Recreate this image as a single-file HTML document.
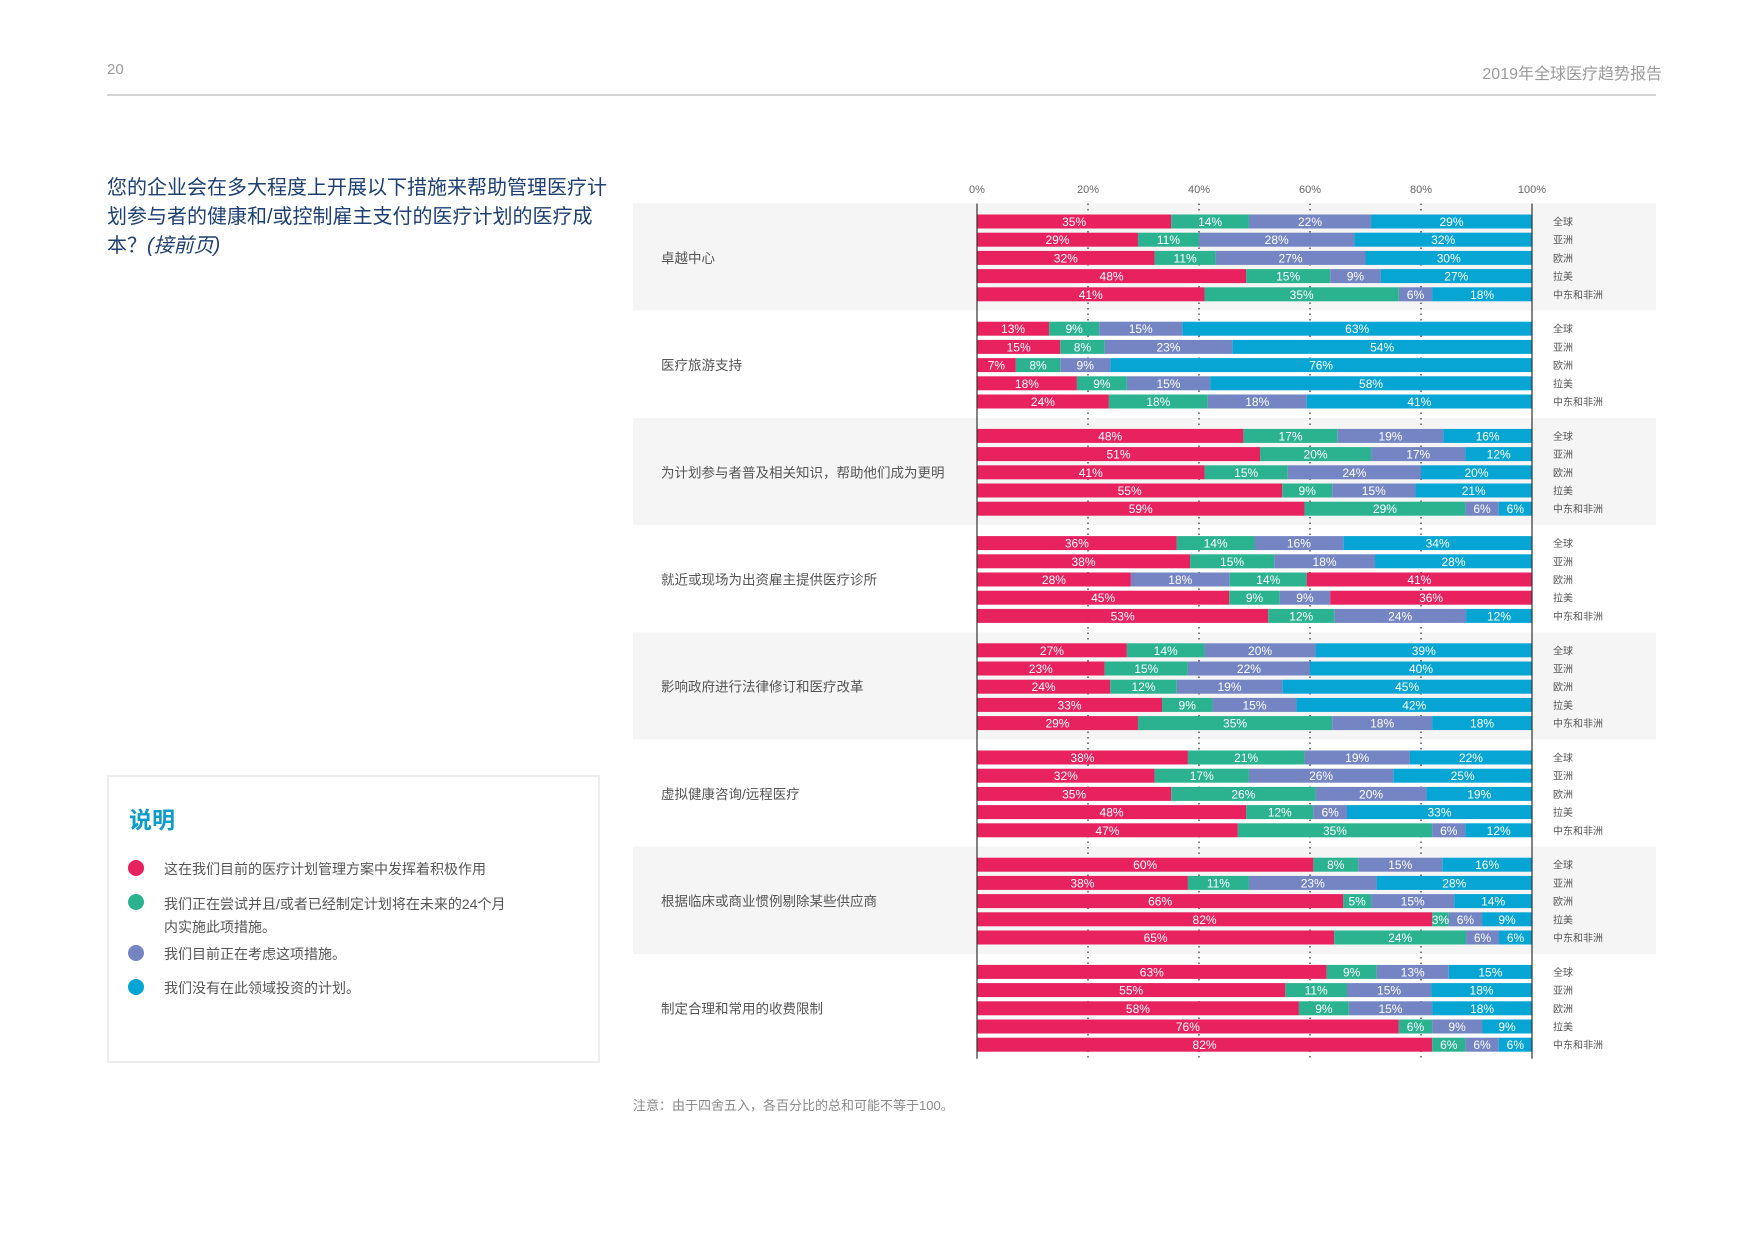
<!DOCTYPE html>
<html><head><meta charset="utf-8">
<style>
body{margin:0;background:#fff;}
#page{position:relative;width:1754px;height:1240px;overflow:hidden;font-family:"Liberation Sans","Noto Sans CJK SC",sans-serif;}
.abs{position:absolute;white-space:nowrap;}
</style></head>
<body>
<div id="page">
<div class="abs" style="left:107px;top:61px;font-size:15px;color:#9a9a9a;">20</div>
<div class="abs" style="right:92px;top:60px;font-size:16px;color:#9a9a9a;">2019年全球医疗趋势报告</div>
<div class="abs" style="left:107px;top:94px;width:1549px;height:2px;background:#d4d4d4;"></div>
<div class="abs" style="left:107px;top:174px;font-size:20px;line-height:29px;color:#1d3f73;white-space:normal;width:510px;">您的企业会在多大程度上开展以下措施来帮助管理医疗计划参与者的健康和/或控制雇主支付的医疗计划的医疗成本？<i>(接前页)</i></div>

<div class="abs" style="left:107px;top:775px;width:493px;height:288px;border:2px solid #eeeeee;box-sizing:border-box;">
  <div class="abs" style="left:20px;top:24px;font-size:23px;font-weight:bold;color:#0b9cc8;">说明</div>
  <div class="abs" style="left:19px;top:83px;width:16px;height:16px;border-radius:50%;background:#e8215f;"></div>
  <div class="abs" style="left:55px;top:82px;font-size:14px;color:#555;">这在我们目前的医疗计划管理方案中发挥着积极作用</div>
  <div class="abs" style="left:19px;top:117px;width:16px;height:16px;border-radius:50%;background:#2bb38f;"></div>
  <div class="abs" style="left:55px;top:116px;font-size:14px;line-height:23px;color:#555;">我们正在尝试并且/或者已经制定计划将在未来的24个月<br>内实施此项措施。</div>
  <div class="abs" style="left:19px;top:168px;width:16px;height:16px;border-radius:50%;background:#7585c4;"></div>
  <div class="abs" style="left:55px;top:167px;font-size:14px;color:#555;">我们目前正在考虑这项措施。</div>
  <div class="abs" style="left:19px;top:202px;width:16px;height:16px;border-radius:50%;background:#06a5d4;"></div>
  <div class="abs" style="left:55px;top:201px;font-size:14px;color:#555;">我们没有在此领域投资的计划。</div>
</div>
<div class="abs" style="left:633px;top:1095px;font-size:13px;color:#8a8a8a;">注意：由于四舍五入，各百分比的总和可能不等于100。</div>

<svg id="chart" class="abs" style="left:0;top:0;" width="1754" height="1240" xmlns="http://www.w3.org/2000/svg"></svg>
</div>
<script>
const categories=["卓越中心","医疗旅游支持","为计划参与者普及相关知识，帮助他们成为更明","就近或现场为出资雇主提供医疗诊所","影响政府进行法律修订和医疗改革","虚拟健康咨询/远程医疗","根据临床或商业惯例剔除某些供应商","制定合理和常用的收费限制"];
const regions=["全球","亚洲","欧洲","拉美","中东和非洲"];
const tickLabels=["0%","20%","40%","60%","80%","100%"];
const tickValues=[0,20,40,60,80,100];
const values=[
[[35,14,22,29],[29,11,28,32],[32,11,27,30],[48,15,9,27],[41,35,6,18]],
[[13,9,15,63],[15,8,23,54],[7,8,9,76],[18,9,15,58],[24,18,18,41]],
[[48,17,19,16],[51,20,17,12],[41,15,24,20],[55,9,15,21],[59,29,6,6]],
[[36,14,16,34],[38,15,18,28],[28,18,14,41],[45,9,9,36],[53,12,24,12]],
[[27,14,20,39],[23,15,22,40],[24,12,19,45],[33,9,15,42],[29,35,18,18]],
[[38,21,19,22],[32,17,26,25],[35,26,20,19],[48,12,6,33],[47,35,6,12]],
[[60,8,15,16],[38,11,23,28],[66,5,15,14],[82,3,6,9],[65,24,6,6]],
[[63,9,13,15],[55,11,15,18],[58,9,15,18],[76,6,9,9],[82,6,6,6]]
];
// response-type of each segment (0 active,1 planning,2 considering,3 none); default order unless listed
const segTypes={"3-2":[0,2,1,0],"3-3":[0,1,2,0]};
const colors=["#e8215f","#2bb38f","#7585c4","#06a5d4"];
const svg=document.getElementById('chart');
const NS="http://www.w3.org/2000/svg";
const X0=977,X1=1532,G0=221.5,GS=107.2,RS=18.2,BH=14;
const x=v=>X0+(X1-X0)*v/100;
const yRow=(g,r)=>G0+g*GS+r*RS;
function mk(t,a){const e=document.createElementNS(NS,t);for(const k in a)e.setAttribute(k,a[k]);svg.appendChild(e);return e;}
// bands
categories.forEach((c,g)=>{
  if(g%2===0){const b=mk('rect',{x:633,y:yRow(g,0)-18,width:1023,height:GS,fill:'#f5f5f5'});
  
  }
  const t=mk('text',{x:661,y:yRow(g,2)+5,'font-size':13.5,fill:'#555'});
  t.textContent=c;
  
  
});
const yTop=yRow(0,0)-18,yBot=yRow(7,4)+14;
tickValues.forEach((v,i)=>{
  const t=mk('text',{x:x(v),y:193,'font-size':11,fill:'#666','text-anchor':'middle'});
  t.textContent=tickLabels[i];
  
  
  if(v>0&&v<100){const l=mk('line',{x1:x(v),x2:x(v),y1:yTop,y2:yBot,stroke:'#555','stroke-width':1.5,'stroke-dasharray':'1.5,4'});
  
  }
});
values.forEach((rows,g)=>{
  rows.forEach((vals,r)=>{
    const tot=vals.reduce((a,b)=>a+b,0);
    const types=segTypes[g+'-'+r]||[0,1,2,3];
    let acc=0;const yc=yRow(g,r);
    vals.forEach((v,s)=>{
      const xa=x(acc/tot*100),xb=x((acc+v)/tot*100);acc+=v;
      const rc=mk('rect',{x:xa,y:yc-BH/2,width:xb-xa,height:BH,fill:colors[types[s]]});
      
      
      const t=mk('text',{x:(xa+xb)/2,y:yc+4.5,'font-size':12,fill:'#fff','text-anchor':'middle'});
      t.textContent=v+'%';
      
      
    });
    const rl=mk('text',{x:1553,y:yc+4,'font-size':10,fill:'#555'});
    rl.textContent=regions[r];
    
    
  });
});
[0,100].forEach(v=>{const l=mk('line',{x1:x(v),x2:x(v),y1:yTop,y2:yBot,stroke:'#333','stroke-width':1.2});

});
</script>
</body></html>
